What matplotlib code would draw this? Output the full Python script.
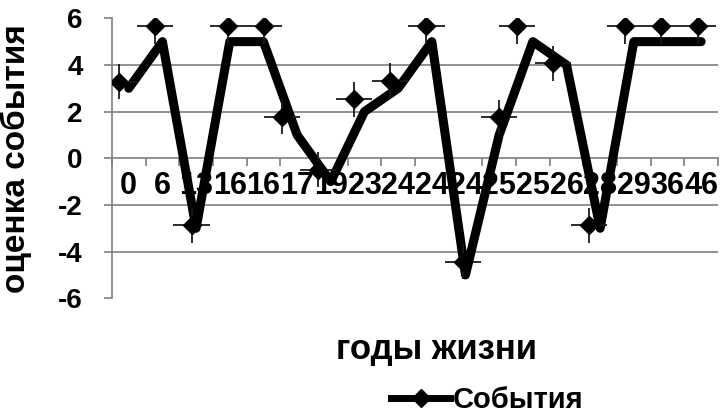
import matplotlib.pyplot as plt
from matplotlib.lines import Line2D

plt.rcParams['font.family'] = ['Liberation Sans', 'DejaVu Sans']
plt.rcParams['font.weight'] = 'bold'
plt.rcParams['axes.unicode_minus'] = False

# Data
years = ['0', '6', '13', '16', '16', '17', '19', '23', '24', '24',
         '24', '25', '25', '26', '28', '29', '36', '46']
line_values = [3, 5, -3, 5, 5, 1, -1, 2, 3, 5, -5, 1, 5, 4, -3, 5, 5, 5]

# markers with error bars (drawn on their own, shifted scale)
marker_pos = [0, 2, 4, 6, 8, 9, 11, 13, 15, 17, 19, 21, 22, 24, 26, 28, 30, 32]
marker_values = [3.28, 5.67, -2.86, 5.67, 5.67, 1.78, -0.5, 2.53, 3.33, 5.67,
                 -4.43, 1.76, 5.67, 4.07, -2.86, 5.67, 5.67, 5.67]
x_err = 1.0
y_err = 0.75

fig = plt.figure(figsize=(7.22, 4.16), dpi=100)
ax = fig.add_axes([0.155, 0.283, 0.8395, 0.673])

x = list(range(len(years)))
ax.plot(x, line_values, color='black', linewidth=6.5, solid_joinstyle='round',
        solid_capstyle='round', zorder=3)

ax.set_xlim(-0.5, len(years) - 0.5)
ax.set_ylim(-6, 6)

# gridlines (only inner values)
for g in [-4, -2, 2, 4]:
    ax.axhline(g, color='#7f7f7f', linewidth=1.2, zorder=1)

for s in ['top', 'right']:
    ax.spines[s].set_visible(False)
ax.spines['bottom'].set_position(('data', 0))
ax.spines['bottom'].set_color('#7f7f7f')
ax.spines['bottom'].set_linewidth(1.2)
ax.spines['left'].set_color('#7f7f7f')
ax.spines['left'].set_linewidth(1.2)

ax.set_yticks([-6, -4, -2, 0, 2, 4, 6])
ax.tick_params(axis='y', direction='out', length=6, width=1.2, color='#7f7f7f',
               labelsize=20, pad=15)

ax.set_xticks(x)
ax.set_xticklabels(years)
ax.set_xticks([i - 0.5 for i in range(len(years) + 1)], minor=True)
ax.tick_params(axis='x', which='major', length=0, labelsize=22, pad=9)
ax.tick_params(axis='x', which='minor', direction='out', length=6, width=1.2,
               color='#7f7f7f')

ax.set_ylabel('оценка события', fontsize=24, fontweight='bold')
ax.yaxis.set_label_coords(-0.132, 0.5)

# marker series on its own x scale
ax2 = ax.twiny()
ax2.set_xlim(-0.404, 33.13)
ax2.axis('off')
ax2.errorbar(marker_pos, marker_values, xerr=x_err, yerr=y_err, fmt='D',
             color='black', ms=9, ecolor='#1a1a1a', elinewidth=1.3, capsize=0,
             zorder=4)

fig.text(0.605, 0.159, 'годы жизни', ha='center', va='center',
         fontsize=25, fontweight='bold')

handle = Line2D([], [], color='black', linewidth=5, marker='D', ms=9)
fig.legend([handle], ['События'], loc='center', bbox_to_anchor=(0.675, 0.038),
           frameon=False, fontsize=21, handlelength=2.0, handletextpad=0.1)

fig.savefig('out.png', dpi=100)
